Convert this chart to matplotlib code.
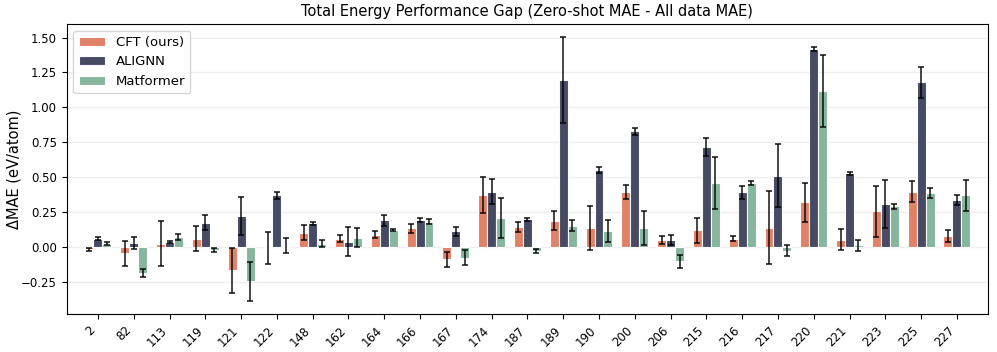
import numpy as np
import matplotlib
matplotlib.use("Agg")
import matplotlib.pyplot as plt

# dataset ids on the x axis
datasets = ["2", "82", "113", "119", "121", "122", "148", "162", "164", "166", "167", "174",
            "187", "189", "190", "200", "206", "215", "216", "217", "220", "221", "223", "225", "227"]

cft = [-0.015, -0.043, 0.026, 0.060, -0.165, -0.007, 0.103, 0.060, 0.089, 0.136, -0.086, 0.376,
       0.144, 0.189, 0.139, 0.397, 0.050, 0.120, 0.062, 0.139, 0.321, 0.053, 0.256, 0.397, 0.081]
cft_err = [0.010, 0.090, 0.163, 0.090, 0.159, 0.114, 0.053, 0.025, 0.026, 0.031, 0.055, 0.128,
           0.035, 0.069, 0.159, 0.051, 0.030, 0.090, 0.016, 0.262, 0.139, 0.075, 0.181, 0.074, 0.043]

alignn = [0.062, 0.031, 0.036, 0.177, 0.225, 0.373, 0.170, 0.041, 0.194, 0.196, 0.115, 0.397,
          0.199, 1.196, 0.553, 0.828, 0.053, 0.718, 0.392, 0.512, 1.419, 0.529, 0.311, 1.179, 0.337]
alignn_err = [0.008, 0.040, 0.007, 0.057, 0.138, 0.025, 0.013, 0.103, 0.040, 0.012, 0.033, 0.089,
              0.012, 0.307, 0.023, 0.026, 0.035, 0.063, 0.047, 0.226, 0.013, 0.011, 0.172, 0.112, 0.035]

matformer = [0.026, -0.187, 0.074, -0.017, -0.244, 0.010, 0.026, 0.069, 0.124, 0.182, -0.074, 0.208,
             -0.029, 0.155, 0.117, 0.139, -0.100, 0.459, 0.459, -0.024, 1.117, 0.014, 0.294, 0.390, 0.373]
matformer_err = [0.012, 0.029, 0.022, 0.014, 0.139, 0.054, 0.023, 0.066, 0.010, 0.017, 0.053, 0.141,
                 0.013, 0.041, 0.078, 0.123, 0.045, 0.188, 0.013, 0.040, 0.260, 0.038, 0.017, 0.035, 0.111]

series = [
    ("CFT (ours)", cft, cft_err, "#E07A5F"),
    ("ALIGNN", alignn, alignn_err, "#3D405B"),
    ("Matformer", matformer, matformer_err, "#81B29A"),
]

fig, ax = plt.subplots(figsize=(9.97, 3.52), dpi=100)
x = np.arange(len(datasets))
width = 0.25

for i, (name, vals, errs, color) in enumerate(series):
    ax.bar(x + (i - 1) * width, vals, width, yerr=errs, label=name, color=color,
           alpha=0.95, edgecolor="white", linewidth=0.8,
           error_kw=dict(ecolor="black", elinewidth=1.2, capsize=2.5, capthick=1.2, alpha=0.85))

ax.set_xticks(x)
ax.set_xticklabels(datasets, rotation=45, ha="right", fontsize=8.5)
ax.tick_params(axis="y", labelsize=8.5)
ax.set_xlim(-0.87, len(datasets) - 1 + 0.87)
ax.set_ylabel("ΔMAE (eV/atom)", fontsize=10.5)
ax.yaxis.set_label_coords(-0.049, 0.5)
ax.set_title("Total Energy Performance Gap (Zero-shot MAE - All data MAE)", fontsize=10.5)
ax.grid(axis="y", alpha=0.2, linewidth=1.0)
ax.set_axisbelow(True)
ax.legend(loc="upper left", fontsize=9.5)

fig.subplots_adjust(left=0.067, right=0.991, bottom=0.108, top=0.932)
fig.savefig("out.png", dpi=100)
